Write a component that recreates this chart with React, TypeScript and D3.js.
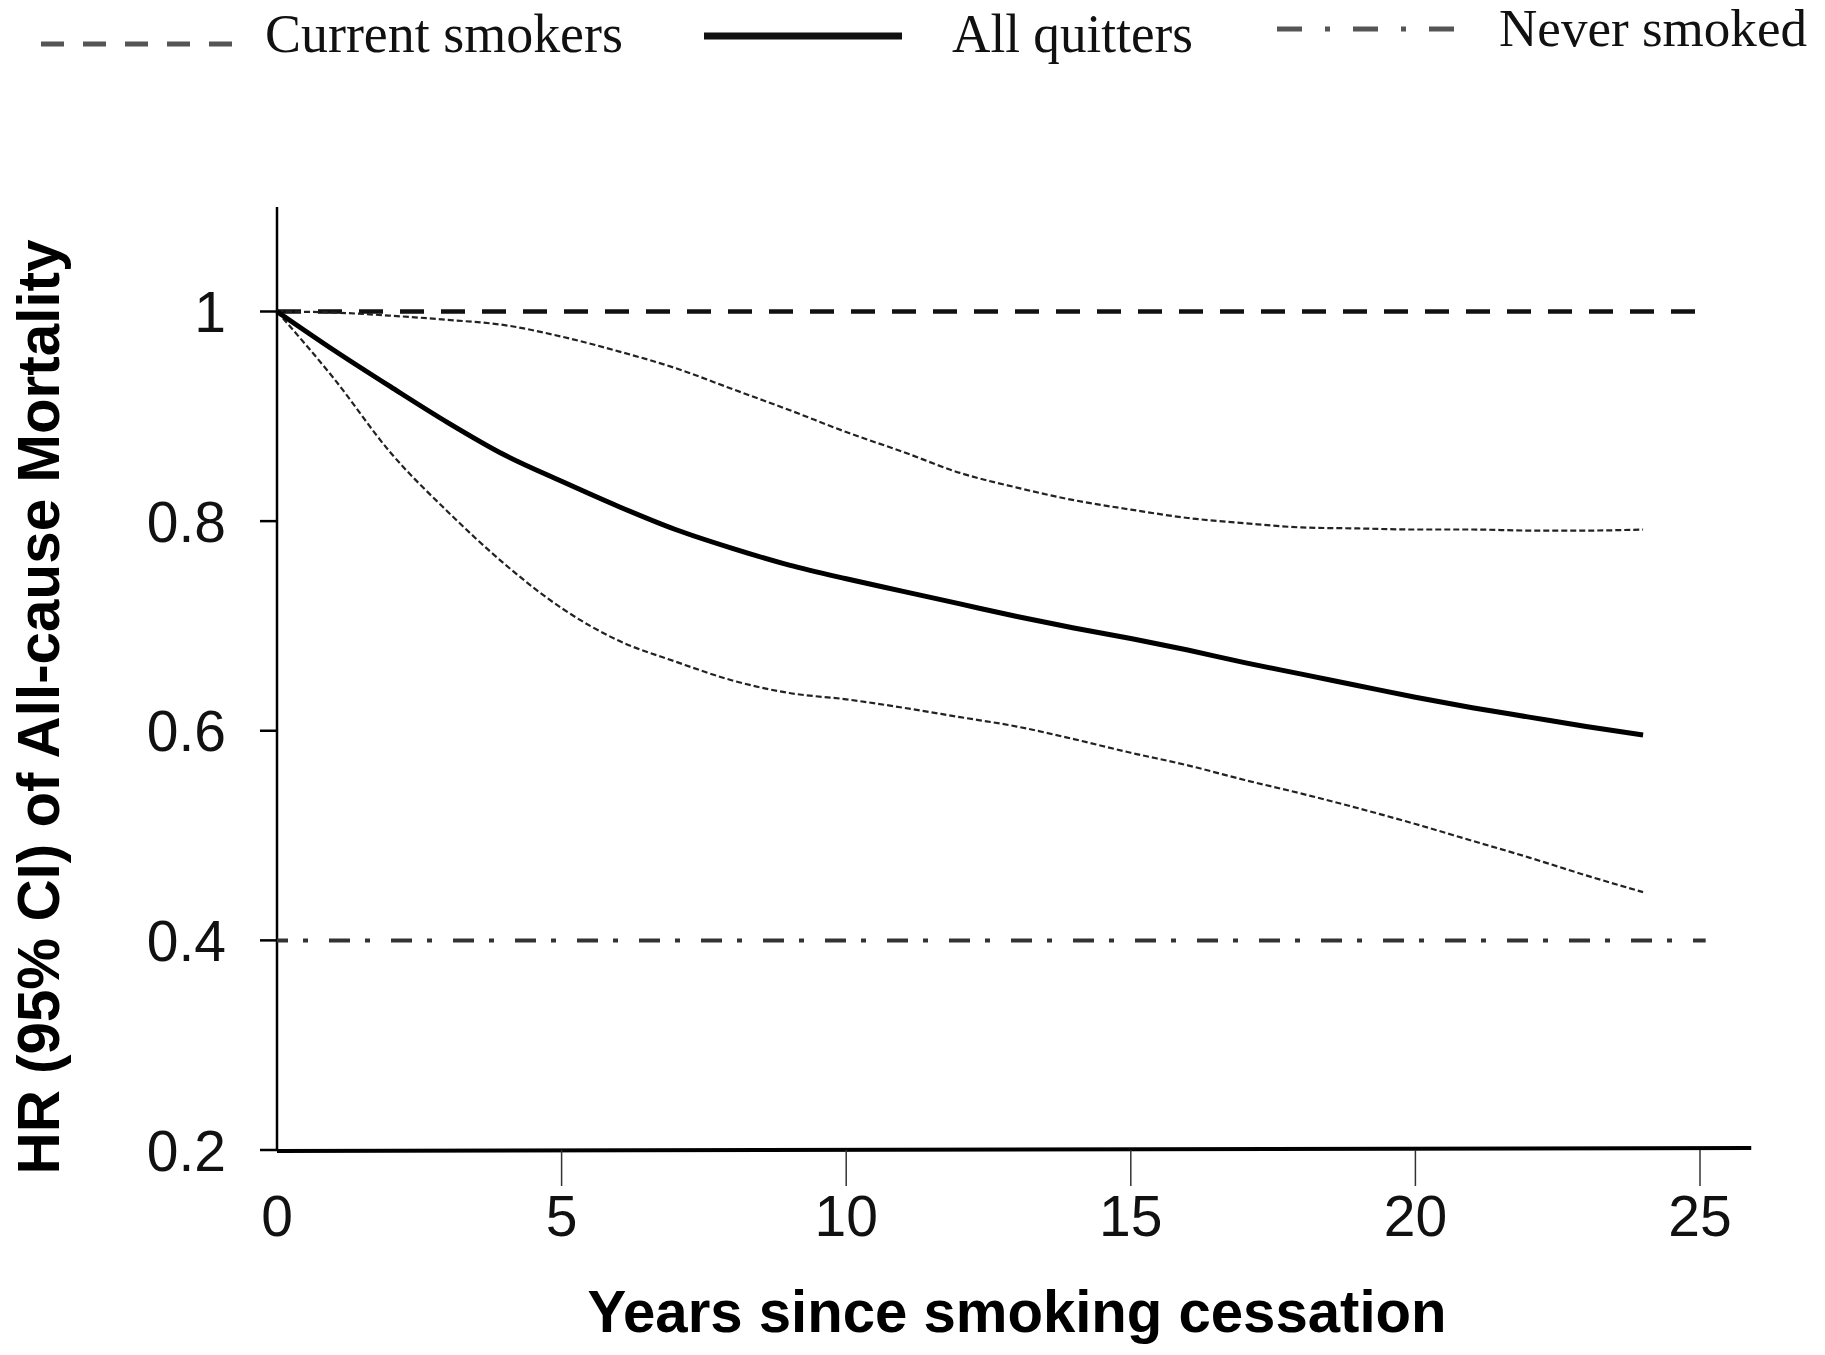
import React from "react";
import * as d3 from "d3";

// years since cessation and hazard ratios
const years = [0, 1, 2, 3, 4, 5, 6, 7, 8, 9, 10, 11, 12, 13, 14, 15, 16, 17, 18, 19, 20, 21, 22, 23, 24];
const allQuitters = [1, 0.963, 0.928, 0.894, 0.863, 0.838, 0.814, 0.792, 0.774, 0.758, 0.745, 0.733, 0.721, 0.709, 0.698, 0.688, 0.677, 0.665, 0.654, 0.643, 0.632, 0.622, 0.613, 0.604, 0.596];
const upperCI = [1, 0.999, 0.996, 0.992, 0.987, 0.976, 0.962, 0.946, 0.926, 0.906, 0.885, 0.866, 0.846, 0.832, 0.82, 0.811, 0.803, 0.798, 0.794, 0.793, 0.792, 0.792, 0.791, 0.791, 0.792];
const lowerCI = [1, 0.936, 0.865, 0.809, 0.759, 0.717, 0.686, 0.666, 0.648, 0.636, 0.63, 0.622, 0.613, 0.604, 0.592, 0.579, 0.567, 0.553, 0.54, 0.526, 0.511, 0.495, 0.479, 0.462, 0.446];
const currentSmokers = [1, 1];
const smokerYears = [0, 25];
const neverSmoked = [0.4, 0.4];
const neverYears = [0, 25.1];

const xTicks = [0, 5, 10, 15, 20, 25];
const yTicks = [0.2, 0.4, 0.6, 0.8, 1];
const legendLabels = ["Current smokers", "All quitters", "Never smoked"];

const W = 1825;
const H = 1355;

export default function App() {
  const x = d3.scaleLinear().domain([0, 25]).range([277, 1700]);
  const y = d3.scaleLinear().domain([0.2, 1]).range([1150, 311.5]);

  const line = d3
    .line<[number, number]>()
    .x((d) => x(d[0]))
    .y((d) => y(d[1]))
    .curve(d3.curveMonotoneX);

  const pts = (vals: number[], xs: number[] = years) =>
    xs.map((yr, i) => [yr, vals[i]] as [number, number]);

  const sans = "'Liberation Sans', Arial, sans-serif";
  const serif = "'Liberation Serif', 'Times New Roman', serif";

  return (
    <div style={{ position: "absolute", left: 0, top: 0 }}>
      <svg width={W} height={H} style={{ display: "block", background: "#fff" }}>
        {/* legend */}
        <g>
          <line x1={41} x2={239} y1={44} y2={44} stroke="#555" strokeWidth={5} strokeDasharray="23,19" />
          <text x={265} y={52} fontFamily={serif} fontSize={54} textLength={358} lengthAdjust="spacingAndGlyphs" fill="#111">
            {legendLabels[0]}
          </text>
          <line x1={704} x2={902} y1={36} y2={36} stroke="#111" strokeWidth={7} />
          <text x={952} y={52} fontFamily={serif} fontSize={54} textLength={241} lengthAdjust="spacingAndGlyphs" fill="#111">
            {legendLabels[1]}
          </text>
          <line x1={1277} x2={1458} y1={29} y2={29} stroke="#555" strokeWidth={5} strokeDasharray="25,23,5,23" />
          <text x={1499} y={46} fontFamily={serif} fontSize={53} textLength={308} lengthAdjust="spacingAndGlyphs" fill="#111">
            {legendLabels[2]}
          </text>
        </g>

        {/* y axis */}
        <line x1={277} x2={277} y1={207} y2={1150} stroke="#000" strokeWidth={2.5} />
        {yTicks.map((t) => (
          <g key={"y" + t}>
            <line x1={260} x2={277} y1={y(t)} y2={y(t)} stroke="#000" strokeWidth={2.5} />
            <text x={226} y={y(t)} dy="0.36em" textAnchor="end" fontFamily={sans} fontSize={57} fill="#111">
              {t === 1 ? "1" : t.toString()}
            </text>
          </g>
        ))}

        {/* x axis */}
        <line x1={277} x2={x(25.9)} y1={1151} y2={1148} stroke="#000" strokeWidth={4} />
        {xTicks.map((t) => (
          <g key={"x" + t}>
            {t > 0 && <line x1={x(t)} x2={x(t)} y1={1150} y2={1186} stroke="#333" strokeWidth={1.5} />}
            <text x={x(t)} y={1236} textAnchor="middle" fontFamily={sans} fontSize={57} fill="#111">
              {t}
            </text>
          </g>
        ))}

        {/* reference lines */}
        <path d={line(pts(currentSmokers, smokerYears)) || ""} fill="none" stroke="#111" strokeWidth={4.5} strokeDasharray="24,17" />
        <path d={line(pts(neverSmoked, neverYears)) || ""} fill="none" stroke="#333" strokeWidth={4} strokeDasharray="21,15,5,21" strokeDashoffset={10} />

        {/* confidence bands */}
        <path d={line(pts(upperCI)) || ""} fill="none" stroke="#222" strokeWidth={2.2} strokeDasharray="6,3" />
        <path d={line(pts(lowerCI)) || ""} fill="none" stroke="#222" strokeWidth={2.2} strokeDasharray="6,3" />

        {/* all quitters */}
        <path d={line(pts(allQuitters)) || ""} fill="none" stroke="#000" strokeWidth={5} />

        {/* axis titles */}
        <text x={1017} y={1332} textAnchor="middle" fontFamily={sans} fontWeight="bold" fontSize={60} textLength={859} lengthAdjust="spacingAndGlyphs" fill="#000">
          Years since smoking cessation
        </text>
        <text
          transform="translate(59,707) rotate(-90)"
          textAnchor="middle"
          fontFamily={sans}
          fontWeight="bold"
          fontSize={59}
          textLength={935}
          lengthAdjust="spacingAndGlyphs"
          fill="#000"
        >
          HR (95% CI) of All-cause Mortality
        </text>
      </svg>
    </div>
  );
}
